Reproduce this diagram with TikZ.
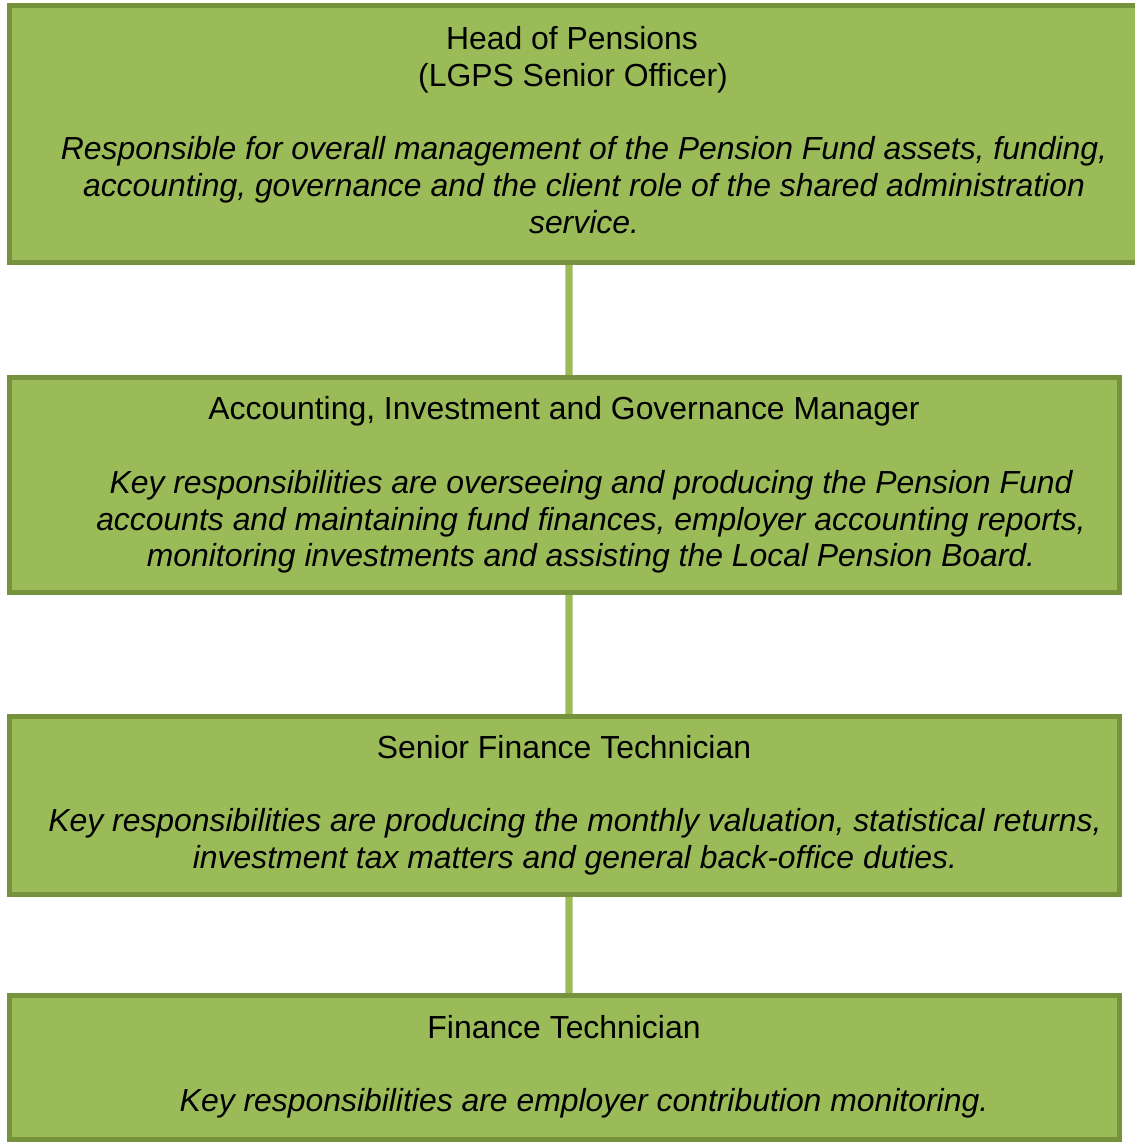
\documentclass[tikz,border=0pt]{standalone}
\usepackage{fontspec}
\setmainfont{Liberation Sans}
\usetikzlibrary{backgrounds}
\definecolor{boxfill}{RGB}{155,187,89}
\definecolor{boxline}{RGB}{118,146,60}
\definecolor{linkedge}{RGB}{190,212,150}
\begin{document}
\begin{tikzpicture}[x=1pt,y=-1pt,
  box/.style={draw=boxline,fill=boxfill,line width=5pt,rectangle,inner sep=0pt,outer sep=0pt},
  ttl/.style={anchor=base,inner sep=0pt,font=\fontsize{31.9}{37}\selectfont},
  desc/.style={anchor=base,inner sep=0pt,font=\fontsize{31.9}{37}\selectfont\itshape},
  linkouter/.style={draw=linkedge,line width=8.5pt},
  linkinner/.style={draw=boxfill,line width=6.5pt}]
\useasboundingbox (0,0) rectangle (1134,1142);
\node (b1) [box,minimum width=1131pt,minimum height=256pt] at (575,134) {};
\node (b2) [box,minimum width=1110pt,minimum height=215pt] at (564.5,485) {};
\node (b3) [box,minimum width=1110pt,minimum height=178pt] at (564.5,805) {};
\node (b4) [box,minimum width=1110pt,minimum height=144pt] at (564.5,1067) {};
\coordinate (cx) at (569,0);
\begin{scope}[on background layer]
\fill[white] (0,0) rectangle (1134,1142);
\draw[linkouter] (b1.south -| cx) -- (b2.north -| cx);
\draw[linkinner] (b1.south -| cx) -- (b2.north -| cx);
\draw[linkouter] (b2.south -| cx) -- (b3.north -| cx);
\draw[linkinner] (b2.south -| cx) -- (b3.north -| cx);
\draw[linkouter] (b3.south -| cx) -- (b4.north -| cx);
\draw[linkinner] (b3.south -| cx) -- (b4.north -| cx);
\end{scope}
% box 1
\node (t1a) [ttl] at (572,49.5) {Head of Pensions};
\node (t1b) [ttl] at (573,86.3) {(LGPS Senior Officer)};
\node (d1a) [desc] at (584,160) {Responsible for overall management of the Pension Fund assets, funding,};
\node (d1b) [desc] at (584,196.8) {accounting, governance and the client role of the shared administration};
\node (d1c) [desc] at (584,233.6) {service.};
% box 2
\node (t2) [ttl] at (564,419.7) {Accounting, Investment and Governance Manager};
\node (d2a) [desc] at (591,493.3) {Key responsibilities are overseeing and producing the Pension Fund};
\node (d2b) [desc] at (591,530.1) {accounts and maintaining fund finances, employer accounting reports,};
\node (d2c) [desc] at (591,566.9) {monitoring investments and assisting the Local Pension Board.};
% box 3
\node (t3) [ttl] at (564,758) {Senior Finance Technician};
\node (d3a) [desc] at (575,831.6) {Key responsibilities are producing the monthly valuation, statistical returns,};
\node (d3b) [desc] at (575,868.4) {investment tax matters and general back-office duties.};
% box 4
\node (t4) [ttl] at (564,1038.2) {Finance Technician};
\node (d4a) [desc] at (584,1111.8) {Key responsibilities are employer contribution monitoring.};
\end{tikzpicture}
\end{document}
